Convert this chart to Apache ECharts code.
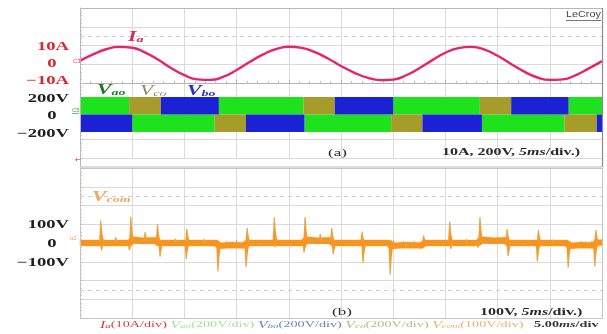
<!DOCTYPE html>
<html>
<head>
<meta charset="utf-8">
<script src="https://cdn.jsdelivr.net/npm/echarts/dist/echarts.min.js"></script>
<style>
  html, body { margin: 0; padding: 0; background: #ffffff; }
  #chart { width: 607px; height: 334px; }
</style>
</head>
<body>
<div id="chart"></div>
<script>
// ---- Time base: 5 ms per division, 10 divisions ----
const timeMin = 0;
const timeMax = 50;
const timeStep = 5;

// ---- Phase-a current Ia (A) sampled every 1.25 ms ----
const iaCurrent = [
  [0, 1.6], [1.25, 5.4], [2.5, 8.5], [3.75, 9.9], [5, 9.4], [6.25, 6.5], [7.5, 2.2],
  [8.75, -2.8], [10, -7.0], [11.25, -9.5], [12.5, -9.8], [13.75, -7.9], [15, -3.9],
  [16.25, 0.9], [17.5, 5.3], [18.75, 8.6], [20, 10.0], [21.25, 9.3], [22.5, 6.8],
  [23.75, 3.0], [25, -1.5], [26.25, -5.4], [27.5, -8.4], [28.75, -9.9], [30, -9.6],
  [31.25, -7.0], [32.5, -2.8], [33.75, 2.0], [35, 6.4], [36.25, 9.2], [37.5, 9.9],
  [38.75, 8.3], [40, 4.6], [41.25, -0.1], [42.5, -4.7], [43.75, -8.2], [45, -9.8],
  [46.25, -9.5], [47.5, -6.9], [48.75, -2.9], [50, 1.4]
];

// ---- Pole voltages: PWM envelopes [start ms, end ms, upper V, lower V] ----
const vaoSegments = [
  [0, 4.7, 200, 0], [13.3, 21.4, 200, 0], [30.0, 38.3, 200, 0], [46.8, 50, 200, 0],
  [5.0, 12.9, 0, -200], [21.5, 29.8, 0, -200], [38.5, 46.4, 0, -200]
];
const vcoSegments = [
  [4.7, 7.75, 200, 0], [21.4, 24.4, 200, 0], [38.3, 41.3, 200, 0],
  [12.9, 15.9, 0, -200], [29.8, 32.8, 0, -200], [46.4, 49.5, 0, -200]
];
const vboSegments = [
  [7.75, 13.3, 200, 0], [24.4, 30.0, 200, 0], [41.3, 46.8, 200, 0],
  [0, 5.0, 0, -200], [15.9, 21.5, 0, -200], [32.8, 38.5, 0, -200], [49.5, 50, 0, -200]
];

// ---- Common-mode voltage Vcom (V): baseline level and switching spikes ----
const vcomBaseline = [
  [0, 0], [4.86, 0], [4.95, 18], [6.0, 12], [7.3, 14], [7.42, 0],
  [13.15, 0], [13.25, -16], [14.5, -10], [15.8, -13], [15.92, 0],
  [21.5, 0], [21.58, 18], [22.8, 12], [24.0, 14], [24.12, 0],
  [29.65, 0], [29.75, -16], [31.2, -10], [32.8, -13], [32.92, 0],
  [38.25, 0], [38.33, 18], [39.6, 12], [40.8, 14], [40.92, 0],
  [46.7, 0], [46.8, -16], [48.0, -10], [49.25, -13], [49.36, 0], [50, 3]
];
const vcomSpikes = [
  [1.98, 118], [2.05, -40], [3.4, 30], [4.72, -40], [4.86, 138], [6.23, 58],
  [7.41, 100], [7.66, -72], [9.1, 22], [10.17, -85], [10.22, 75], [11.9, 20],
  [13.2, -150], [15.9, -128], [16.0, 79], [17.3, -18], [18.6, 135], [18.7, -22],
  [20.1, -15], [21.45, -50], [21.55, 137], [23.0, 47], [24.1, 80], [24.25, -60],
  [27.0, 60], [27.1, -105], [29.7, -167], [29.8, 15], [31.3, -20], [32.9, 40],
  [35.4, 113], [35.5, -32], [37.0, 20], [38.1, -25], [38.3, 137], [40.9, 74],
  [41.0, -70], [42.5, -18], [43.8, -97], [43.9, 68], [45.3, 18], [46.75, -130],
  [49.3, -124], [49.4, 68]
];

// ---- Tick labels ----
const iaTickValues = [10, 0, -10];
const iaTickLabels = ['10A', '0', '\u221210A'];
const vTickValues = [200, 0, -200];
const vTickLabels = ['200V', '0', '\u2212200V'];
const vcomTickValues = [100, 0, -100];
const vcomTickLabels = ['100V', '0', '\u2212100V'];

// ---- Colours ----
const colIa = '#e6236c';
const colVao = '#1fe21f';
const colVco = '#a59c2a';
const colVbo = '#1b22d4';
const colVcom = '#f7941d';

const chart = echarts.init(document.getElementById('chart'), null, { renderer: 'canvas' });

const PL = 80, PW = 522;

function timeAxis(gridIndex, extra) {
  return Object.assign({
    type: 'value', gridIndex: gridIndex, min: timeMin, max: timeMax, interval: timeStep,
    axisLabel: { show: false }, axisTick: { show: false }, axisLine: { show: false },
    splitLine: { show: false }
  }, extra || {});
}

const frameX = {
  splitLine: { show: true, lineStyle: { color: '#dadada', width: 1 } },
  axisLine: { show: true, onZero: true, lineStyle: { color: '#b4b4b4' } },
  axisTick: { show: true, inside: true, length: 3, lineStyle: { color: '#b4b4b4' } },
  minorTick: { show: true, splitNumber: 5, length: 2, lineStyle: { color: '#c4c4c4' } }
};
function frameY(gridIndex) {
  return {
    type: 'value', gridIndex: gridIndex, min: -4, max: 4, interval: 1,
    axisLabel: { show: false },
    splitLine: { show: true, lineStyle: { color: '#dadada', width: 1 } },
    axisLine: { show: true, onZero: true, lineStyle: { color: '#c0c0c0' } },
    axisTick: { show: true, inside: true, length: 3, lineStyle: { color: '#c0c0c0' } },
    minorTick: { show: true, splitNumber: 5, length: 2, lineStyle: { color: '#cccccc' } }
  };
}
function hiddenY(gridIndex, min, max) {
  return {
    type: 'value', gridIndex: gridIndex, min: min, max: max,
    axisLabel: { show: false }, axisTick: { show: false }, axisLine: { show: false },
    splitLine: { show: false }
  };
}

function renderBand(params, api) {
  const p0 = api.coord([api.value(0), api.value(2)]);
  const p1 = api.coord([api.value(1), api.value(3)]);
  return {
    type: 'rect',
    shape: { x: p0[0], y: p0[1], width: p1[0] - p0[0], height: p1[1] - p0[1] },
    style: { fill: api.visual('color') }
  };
}

// a switching spike: sharp edge on the left, short decaying tail on the right
function renderSpike(params, api) {
  const b = api.coord([api.value(0), 0]);
  const t = api.coord([api.value(0), api.value(1)]);
  const h = t[1] - b[1];
  return {
    type: 'polygon',
    shape: { points: [[b[0] - 1.6, b[1]], [b[0] - 0.5, t[1]], [b[0] + 0.7, t[1]],
                      [b[0] + 1.6, b[1] + h * 0.5], [b[0] + 2.4, b[1] + h * 0.25], [b[0] + 4, b[1]]] },
    style: {
      fill: new echarts.graphic.LinearGradient(0, h < 0 ? 0 : 1, 0, h < 0 ? 1 : 0, [
        { offset: 0, color: '#d9ad5a' }, { offset: 0.5, color: '#f0a03a' }, { offset: 1, color: '#f7941d' }
      ])
    }
  };
}

const dashedMark = (values) => ({
  silent: true, symbol: ['none', 'none'], label: { show: false },
  lineStyle: { type: [4, 4], color: '#cfcfcf', width: 1 },
  data: values.map(v => ({ yAxis: v }))
});

chart.setOption({
  animation: false,
  backgroundColor: '#ffffff',
  grid: [
    { left: PL, top: 8, width: PW, height: 150 },     // upper scope screen
    { left: PL, top: 30, width: PW, height: 67 },     // Ia trace
    { left: PL, top: 79.5, width: PW, height: 70 },   // pole voltages
    { left: PL, top: 168, width: PW, height: 150 },   // lower scope screen
    { left: PL, top: 186, width: PW, height: 114 }    // Vcom trace
  ],
  xAxis: [
    timeAxis(0, frameX), timeAxis(1), timeAxis(2), timeAxis(3, frameX), timeAxis(4)
  ],
  yAxis: [
    frameY(0), hiddenY(1, -20, 20), hiddenY(2, -400, 400), frameY(3), hiddenY(4, -300, 300)
  ],
  series: [
    { type: 'line', xAxisIndex: 0, yAxisIndex: 0, data: [], silent: true, markLine: dashedMark([2.5]) },
    { type: 'line', xAxisIndex: 3, yAxisIndex: 3, data: [], silent: true, markLine: dashedMark([2.5, -2.5]) },
    { name: 'Vao', type: 'custom', xAxisIndex: 2, yAxisIndex: 2, renderItem: renderBand,
      itemStyle: { color: colVao }, encode: { x: [0, 1], y: [2, 3] }, data: vaoSegments, z: 3 },
    { name: 'Vco', type: 'custom', xAxisIndex: 2, yAxisIndex: 2, renderItem: renderBand,
      itemStyle: { color: colVco }, encode: { x: [0, 1], y: [2, 3] }, data: vcoSegments, z: 3 },
    { name: 'Vbo', type: 'custom', xAxisIndex: 2, yAxisIndex: 2, renderItem: renderBand,
      itemStyle: { color: colVbo }, encode: { x: [0, 1], y: [2, 3] }, data: vboSegments, z: 3 },
    { name: 'Ia', type: 'line', xAxisIndex: 1, yAxisIndex: 1, data: iaCurrent, smooth: 0.5,
      showSymbol: false, lineStyle: { color: colIa, width: 2.4 }, z: 4 },
    { name: 'Vcom', type: 'line', xAxisIndex: 4, yAxisIndex: 4, data: vcomBaseline,
      showSymbol: false, lineStyle: { color: colVcom, width: 6, shadowColor: 'rgba(247,148,29,0.55)', shadowBlur: 2 }, z: 4 },
    { name: 'Vcom spikes', type: 'custom', xAxisIndex: 4, yAxisIndex: 4, renderItem: renderSpike,
      itemStyle: { color: '#ef9a2c' }, encode: { x: 0, y: 1 }, data: vcomSpikes, z: 5, clip: false }
  ]
});

// ---- Text layer (horizontally stretched serif lettering) ----
const S = 1.55;
const serifBold = (size) => 'bold ' + size + 'px "Liberation Serif", "DejaVu Serif", serif';
const graphics = [];

function addText(text, x, y, fill, font, align, scale, extra) {
  graphics.push(Object.assign({
    type: 'text', x: x, y: y, scaleX: scale || S, z: 100, silent: true,
    style: { text: text, fill: fill, font: font, align: align || 'left', verticalAlign: 'middle' }
  }, extra || {}));
}

function axisLabels(values, labels, yAxisIndex, color, dy) {
  values.forEach((v, i) => {
    const y = chart.convertToPixel({ yAxisIndex: yAxisIndex }, v) + (dy || 0);
    if (labels[i] === '0') addText(labels[i], 52, y, color, serifBold(12), 'center');
    else addText(labels[i], 69, y, color, serifBold(12), 'right');
  });
}
axisLabels(iaTickValues, iaTickLabels, 1, '#d9282f', 0.5);
axisLabels(vTickValues, vTickLabels, 2, '#1e1e1e', 1.5);
axisLabels(vcomTickValues, vcomTickLabels, 4, '#1e1e1e', 1);

// trace names
function traceName(x, y, main, sub, color, weight) {
  graphics.push({
    type: 'text', x: x, y: y, scaleX: S, z: 100, silent: true,
    style: {
      text: '{m|' + main + '}{s|' + sub + '}', verticalAlign: 'middle',
      rich: {
        m: { fill: color, font: 'italic ' + weight + ' 14px "Liberation Serif", serif' },
        s: { fill: color, font: 'italic ' + weight + ' 9px "Liberation Serif", serif', verticalAlign: 'bottom', padding: [4, 0, 0, 0] }
      }
    }
  });
}
traceName(128, 37, 'I', 'a', '#e0235a', 'bold');
traceName(97, 90, 'V', 'ao', '#1f7a1f', 'bold');
traceName(140, 91, 'V', 'co', '#8e8c6c', 'normal');
traceName(187, 91, 'V', 'bo', '#2233cc', 'bold');
traceName(92, 197, 'V', 'com', '#f2a562', 'bold');

// panel captions
addText('(a)', 328, 153, '#2a2a2a', '11px "Liberation Serif", serif', 'left');
addText('(b)', 332, 312, '#2a2a2a', '11px "Liberation Serif", serif', 'left');
function scaleNote(x, y, head) {
  graphics.push({
    type: 'text', x: x, y: y, scaleX: 1.6, z: 100, silent: true,
    style: {
      text: '{t|' + head + '}{i|5ms}{t|/div.)}', verticalAlign: 'middle',
      rich: {
        t: { fill: '#2a2a2a', font: serifBold(10) },
        i: { fill: '#2a2a2a', font: 'italic bold 10px "Liberation Serif", serif' }
      }
    }
  });
}
scaleNote(442, 152, '10A, 200V, ');
scaleNote(480, 312, '100V, ');

// LeCroy mark
addText('LeCroy', 566, 15, '#454545', '9px "Liberation Sans", Arial, sans-serif', 'left', 1.2);
graphics.push({ type: 'line', shape: { x1: 566, y1: 20.5, x2: 601, y2: 20.5 }, style: { stroke: '#555', lineWidth: 0.8 }, z: 100 });

// channel markers on the left edge
addText('C3', 73, 61, '#e0407a', '6px "Liberation Sans", sans-serif', 'left', 1);
addText('C5', 72, 110, '#3aa63a', '6px "Liberation Sans", sans-serif', 'left', 1);
graphics.push({ type: 'line', shape: { x1: 72, y1: 113.5, x2: 79, y2: 113.5 }, style: { stroke: '#3aa63a', lineWidth: 0.7 }, z: 100 });
addText('u2', 70, 238, '#f0a050', '6px "Liberation Sans", sans-serif', 'left', 1);
addText('\u2190', 75, 160, '#d02030', '7px "DejaVu Sans", sans-serif', 'left', 1);

// panel borders
graphics.push({ type: 'rect', shape: { x: 80.5, y: 8.5, width: 522, height: 158.5 }, style: { fill: 'none', stroke: '#b8b8b8', lineWidth: 1 }, z: 50 });
graphics.push({ type: 'rect', shape: { x: 80.5, y: 168.5, width: 522, height: 150 }, style: { fill: 'none', stroke: '#c4c4c4', lineWidth: 1 }, z: 50 });
graphics.push({ type: 'line', shape: { x1: 602.5, y1: 8, x2: 602.5, y2: 167 }, style: { stroke: '#8c8c8c', lineWidth: 1.2 }, z: 51 });

// bottom legend line
const captionColors = { r: '#e23a3a', g: '#9fe39a', b: '#6b82c6', o: '#bdb77e', c: '#f5ad6a', k: '#333333' };
const captionParts = [
  ['I', 'ri'], ['a', 'rs'], ['(10A/div) ', 'rt'],
  ['V', 'gi'], ['ao', 'gs'], ['(200V/div) ', 'gt'],
  ['V', 'bi'], ['bo', 'bs'], ['(200V/div) ', 'bt'],
  ['V', 'oi'], ['co', 'os'], ['(200V/div) ', 'ot'],
  ['V', 'ci'], ['com', 'cs'], ['(100V/div)', 'ct'],
  ['   5.00', 'kb'], ['ms', 'ki'], ['/div', 'kb']
];
const captionRich = {};
Object.keys(captionColors).forEach(k => {
  const c = captionColors[k];
  captionRich[k + 'i'] = { fill: c, font: 'italic 10px "Liberation Serif", serif' };
  captionRich[k + 's'] = { fill: c, font: 'italic 7px "Liberation Serif", serif', verticalAlign: 'bottom' };
  captionRich[k + 't'] = { fill: c, font: '9px "Liberation Serif", serif' };
  captionRich[k + 'b'] = { fill: c, font: 'bold 9px "Liberation Serif", serif' };
});
captionRich.ki = { fill: captionColors.k, font: 'italic bold 9px "Liberation Serif", serif' };
graphics.push({
  type: 'text', x: 100, y: 325, scaleX: 1.58, z: 100, silent: true,
  style: {
    text: captionParts.map(p => '{' + p[1] + '|' + p[0] + '}').join(''),
    verticalAlign: 'middle', rich: captionRich
  }
});

chart.setOption({ graphic: graphics });
</script>
</body>
</html>
